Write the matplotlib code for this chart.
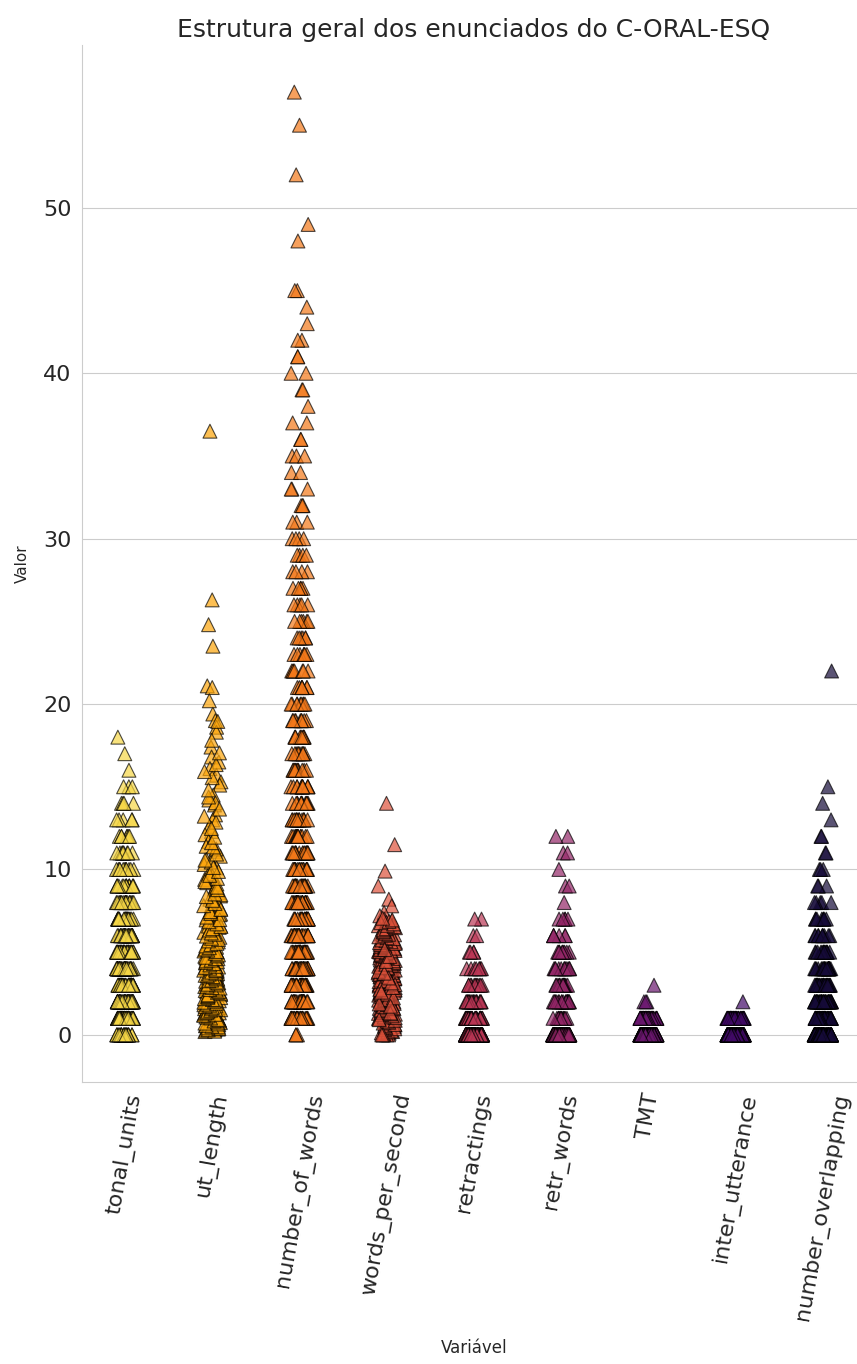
import numpy as np
import pandas as pd
import matplotlib
matplotlib.use("Agg")
import matplotlib.pyplot as plt
import seaborn as sns

# --- dados (valores e contagens aproximados) ---
variaveis = ["tonal_units", "ut_length", "number_of_words", "words_per_second",
             "retractings", "retr_words", "TMT", "inter_utterance", "number_overlapping"]

tonal_vals = [0, 1, 2, 3, 4, 5, 6, 7, 8, 9, 10, 11, 12, 13, 14, 15, 16, 17, 18]
tonal_counts = [25, 60, 55, 45, 40, 35, 30, 25, 20, 16, 12, 9, 7, 5, 4, 3, 1, 1, 1]

ut_length = [36.5, 26.3, 24.8, 23.5, 21.1, 21.0, 19.4, 19.0, 18.6, 18.3, 17.4, 16.8,
             16.5, 16.1, 15.7, 15.3, 15.1, 14.5, 14.2, 13.9, 13.3, 13.0, 12.6, 12.3,
             12.1, 11.7, 11.4, 11.1, 10.8, 10.6, 10.3, 10.1, 9.8, 9.6, 9.4, 9.2, 9.0,
             8.8, 8.6, 8.4, 8.2, 8.0, 7.8, 7.7, 7.5, 7.3, 7.1, 6.95, 6.8, 6.6, 6.5,
             6.3, 6.2, 6.0, 5.9, 5.7, 5.6, 5.4, 5.3, 5.15, 5.0, 4.9, 4.75, 4.6, 4.5,
             4.35, 4.2, 4.1, 4.0, 3.85, 3.7, 3.6, 3.5, 3.4, 3.3, 3.15, 3.0, 2.9, 2.8,
             2.7, 2.6, 2.5, 2.4, 2.3, 2.2, 2.1, 2.0, 1.9, 1.8, 1.7, 1.6, 1.5, 1.4,
             1.3, 1.2, 1.1, 1.0, 0.9, 0.8, 0.7, 0.6, 0.5, 0.4, 0.3, 0.2,
             0.35, 0.55, 0.62, 0.81, 0.97, 1.12, 1.28, 1.33, 1.47, 1.58, 1.66, 1.82,
             1.94, 2.06, 2.17, 2.33, 2.48, 2.61, 2.77, 2.92, 3.08, 3.24, 3.45, 3.62,
             3.81, 3.97, 4.18, 4.42, 4.63, 4.88, 5.07, 5.34, 5.62, 5.95, 6.27, 6.58,
             6.91, 7.26, 7.63, 8.05, 8.47, 9.12, 9.73, 10.45, 11.24, 12.86, 14.03,
             15.55, 0.28, 0.74, 1.05, 1.52, 1.99, 2.44, 2.88, 3.36, 3.91, 4.56, 5.21,
             0.45, 0.95, 1.38, 1.75, 2.25, 2.68, 3.12, 3.55,
             0.22, 0.31, 0.38, 0.42, 0.48, 0.52, 0.58, 0.66, 0.71, 0.77, 0.84, 0.88,
             0.93, 1.02, 1.08, 1.15, 1.19, 1.24, 1.31, 1.36, 1.43, 1.49, 1.55, 1.61,
             1.68, 1.72, 1.79, 1.86, 1.91, 1.97, 2.03, 2.11, 2.14, 2.19, 2.27, 2.31,
             2.38, 2.42, 2.51, 2.57, 2.63, 2.71, 2.74, 2.83, 2.86, 2.94, 3.02, 3.06,
             3.13, 3.19, 3.27, 3.31, 3.39, 3.48, 3.52, 3.58, 3.67, 3.73, 3.79, 3.88,
             3.93, 4.03, 4.08, 4.14, 4.23, 4.31, 4.38, 4.47, 4.52, 4.61, 4.69, 4.77,
             4.84, 4.93, 5.04, 5.12, 5.19, 5.27, 5.38, 5.46, 5.53, 5.68, 5.77, 5.84,
             5.97, 6.08, 6.16, 6.34, 6.42, 6.55, 6.71, 6.84, 6.97, 7.12, 7.34, 7.45,
             7.58, 7.81, 7.94, 8.13, 8.36, 8.52, 8.78, 8.93, 9.27, 9.46, 9.64, 9.88,
             10.12, 10.56, 10.93, 11.36, 11.62, 11.95, 12.48, 13.22, 13.65, 14.38,
             14.81, 15.92, 16.34, 17.05, 17.81, 18.95, 20.2]

words_vals = list(range(0, 46)) + [48, 49, 52, 55, 57]
words_counts = [3, 30, 35, 35, 33, 30, 28, 26, 24, 22, 20, 18, 16, 15, 14, 13, 12, 11,
                10, 9, 9, 8, 7, 7, 6, 6, 5, 5, 4, 4, 4, 3, 3, 3, 2, 3, 2, 2, 1, 2, 2,
                2, 2, 1, 1, 2, 1, 1, 1, 1, 1]

words_per_second = [14.0, 11.5, 9.9, 9.0, 8.2, 7.8, 7.4, 7.2, 7.0, 6.9, 6.8, 6.6, 6.5,
                    6.4, 6.3, 6.2, 6.1, 6.0, 5.9, 5.8, 5.7, 5.6, 5.5, 5.4, 5.3, 5.2,
                    5.1, 5.0, 4.9, 4.8, 4.7, 4.6, 4.5, 4.4, 4.3, 4.2, 4.1, 4.0, 3.9,
                    3.8, 3.7, 3.6, 3.5, 3.4, 3.3, 3.2, 3.1, 3.0, 2.9, 2.8, 2.7, 2.6,
                    2.5, 2.4, 2.3, 2.2, 2.1, 2.0, 1.9, 1.8, 1.7, 1.6, 1.5, 1.4, 1.3,
                    1.2, 1.1, 1.0, 0.9, 0.8, 0.7, 0.6, 0.5, 0.4, 0.3, 0.2, 0.1, 0.0,
                    3.25, 3.55, 2.85, 2.45, 3.95, 4.35, 2.15, 2.65, 3.15, 3.75, 4.05,
                    1.85, 2.35, 2.95, 3.45, 4.55, 5.05, 1.55, 2.05, 2.75, 3.35, 3.85,
                    4.25, 4.65, 5.35, 1.25, 1.95, 2.55, 3.05, 3.65, 4.15, 4.85, 5.55,
                    6.05, 0.95, 1.65, 2.25, 2.95, 3.5, 4.45, 5.25, 0.0, 0.0, 0.5, 1.0,
                    0.05, 0.12, 0.18, 0.24, 0.33, 0.37, 0.44, 0.52, 0.58, 0.63, 0.71,
                    0.76, 0.83, 0.88, 0.97, 1.04, 1.08, 1.15, 1.22, 1.27, 1.34, 1.38,
                    1.46, 1.51, 1.58, 1.63, 1.72, 1.77, 1.83, 1.88, 1.92, 1.98, 2.03,
                    2.08, 2.12, 2.18, 2.22, 2.28, 2.31, 2.37, 2.42, 2.48, 2.52, 2.57,
                    2.62, 2.68, 2.72, 2.78, 2.82, 2.87, 2.91, 2.97, 3.02, 3.07, 3.11,
                    3.17, 3.22, 3.27, 3.31, 3.38, 3.42, 3.47, 3.52, 3.58, 3.62, 3.67,
                    3.71, 3.78, 3.82, 3.88, 3.92, 3.97, 4.02, 4.08, 4.12, 4.18, 4.22,
                    4.28, 4.32, 4.38, 4.42, 4.48, 4.53, 4.58, 4.62, 4.68, 4.73, 4.78,
                    4.83, 4.88, 4.93, 4.98, 5.03, 5.08, 5.14, 5.18, 5.24, 5.28, 5.33,
                    5.38, 5.44, 5.48, 5.53, 5.58, 5.63, 5.69, 5.74, 5.82, 5.87, 5.93,
                    6.02, 6.08, 6.14, 6.22, 6.27, 6.35, 6.42, 6.48, 6.55, 6.62, 6.71,
                    6.78, 6.86, 6.95, 7.05, 2.14, 2.46, 2.73, 3.04, 3.26, 3.53, 3.84,
                    4.06, 4.27, 1.64, 1.87, 2.24, 2.58, 2.86, 3.14, 3.44, 3.73, 4.44,
                    4.74, 5.16, 0.92, 1.32, 1.73, 0.0, 0.0]

retract_vals = [0, 1, 2, 3, 4, 5, 6, 7]
retract_counts = [150, 40, 20, 12, 8, 4, 2, 2]

retr_words_vals = [0, 1, 2, 3, 4, 5, 6, 7, 8, 9, 10, 11, 12]
retr_words_counts = [150, 15, 20, 15, 12, 10, 6, 5, 1, 2, 1, 2, 2]

tmt_vals = [0, 1, 2, 3]
tmt_counts = [200, 60, 3, 1]

inter_vals = [0, 1, 2]
inter_counts = [200, 50, 1]

overlap_vals = [0, 1, 2, 3, 4, 5, 6, 7, 8, 9, 10, 11, 12, 13, 14, 15, 22]
overlap_counts = [150, 60, 40, 30, 22, 15, 10, 8, 5, 3, 3, 2, 2, 1, 1, 1, 1]


def expand(vals, counts):
    return list(np.repeat(vals, counts).astype(float))


series = {
    "tonal_units": expand(tonal_vals, tonal_counts),
    "ut_length": ut_length,
    "number_of_words": expand(words_vals, words_counts),
    "words_per_second": words_per_second,
    "retractings": expand(retract_vals, retract_counts),
    "retr_words": expand(retr_words_vals, retr_words_counts),
    "TMT": expand(tmt_vals, tmt_counts),
    "inter_utterance": expand(inter_vals, inter_counts),
    "number_overlapping": expand(overlap_vals, overlap_counts),
}

rows = []
for nome in variaveis:
    for v in series[nome]:
        rows.append((nome, v))
df = pd.DataFrame(rows, columns=["Variável", "Valor"])

sns.set_style("whitegrid")
np.random.seed(3)

fig = plt.figure(figsize=(8.57, 13.64), dpi=100)
ax = fig.add_axes([81.5 / 857, (1364 - 1082) / 1364, 785 / 857, 1037 / 1364])

sns.stripplot(data=df, x="Variável", y="Valor", hue="Variável", order=variaveis,
              hue_order=variaveis, palette="inferno_r", marker="^", size=10,
              alpha=0.7, edgecolor="black", linewidth=0.8, jitter=True,
              legend=False, ax=ax)

sns.despine(ax=ax)
ax.set_title("Estrutura geral dos enunciados do C-ORAL-ESQ", fontsize=18, pad=6)
ax.set_xlabel("Variável", fontsize=12, labelpad=12)
ax.set_ylabel("Valor", fontsize=11, labelpad=10)
ax.tick_params(axis="y", labelsize=16)
ax.tick_params(axis="x", labelsize=16, labelrotation=80)

fig.savefig("out.png", dpi=100)
